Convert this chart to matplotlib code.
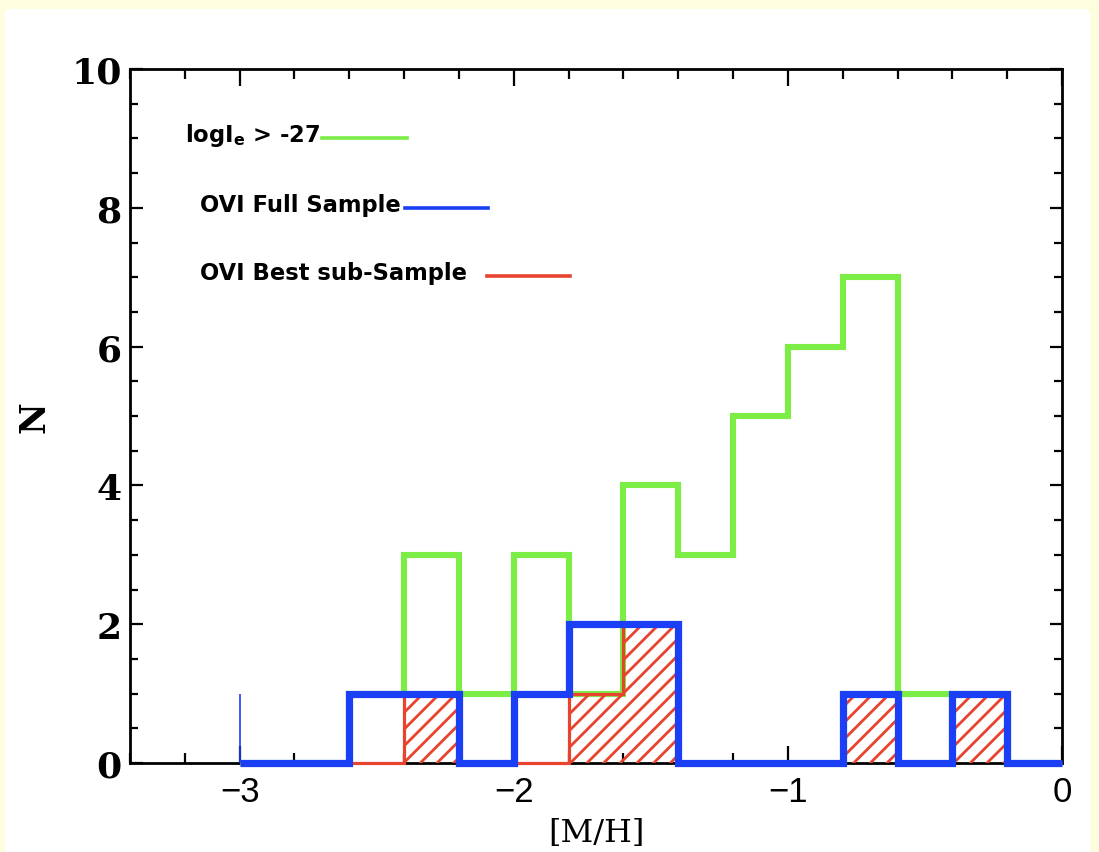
#!/usr/bin/env python3
"""Metallicity histograms: logI_e > -27 sample vs OVI full / best sub-sample."""
import matplotlib
matplotlib.use("Agg")
import matplotlib.pyplot as plt
from matplotlib.patches import FancyBboxPatch
from matplotlib.ticker import MultipleLocator
import numpy as np

# bin edges in [M/H], 0.2 dex wide
edges = np.round(np.arange(-3.0, 0.001, 0.2), 2)
# counts per bin, left to right
green_counts = [0, 0, 1, 3, 1, 3, 1, 4, 3, 5, 6, 7, 1, 1, 0]
blue_counts = [0, 0, 1, 1, 0, 1, 2, 2, 0, 0, 0, 1, 0, 1, 0]
red_counts = [0, 0, 0, 1, 0, 0, 1, 2, 0, 0, 0, 1, 0, 1, 0]
# stray thin blue tick drawn at the start of the full-sample histogram
blue_spike_x = -3.0
blue_spike_h = 1

labels = [r"$\mathbf{logI_e}$ > -27", "OVI Full Sample", "OVI Best sub-Sample"]

GREEN = "#7ced45"
BLUE = "#1a3ff5"
RED = "#e8432f"
BEIGE = "#fffde0"

plt.rcParams["hatch.linewidth"] = 2.0

fig = plt.figure(figsize=(10.99, 8.53), dpi=100, facecolor=BEIGE)
panel = FancyBboxPatch((5 / 1099, -0.05), 1085 / 1099, 1.05 - 10 / 853,
                       boxstyle="round,pad=0,rounding_size=0.006",
                       transform=fig.transFigure, facecolor="white",
                       edgecolor="none", zorder=-5)
fig.patches.append(panel)

ax = fig.add_axes([130 / 1099, 1 - 764 / 853, 932 / 1099, 694 / 853])
ax.set_facecolor("none")

# green histogram (drawn first, underneath)
ax.stairs(green_counts, edges, color=GREEN, linewidth=4.4, baseline=None,
          zorder=3, clip_on=False)
# red hatched fill + outline
ax.stairs(red_counts, edges, fill=True, facecolor="none", edgecolor=RED,
          hatch="//", linewidth=0, zorder=4, clip_on=False)
ax.stairs(red_counts, edges, color=RED, linewidth=2.3, baseline=None,
          zorder=4.5, clip_on=False)
# blue full sample on top
ax.stairs(blue_counts, edges, color=BLUE, linewidth=5.2, baseline=None,
          zorder=5, clip_on=False)
ax.vlines(blue_spike_x, 0, blue_spike_h, color=BLUE, linewidth=1.2, zorder=5)

ax.set_xlim(-3.4, 0)
ax.set_ylim(0, 10)

ax.xaxis.set_major_locator(MultipleLocator(1))
ax.xaxis.set_minor_locator(MultipleLocator(0.2))
ax.yaxis.set_major_locator(MultipleLocator(2))
ax.yaxis.set_minor_locator(MultipleLocator(0.5))
ax.tick_params(which="both", direction="in", top=True, right=True, width=1.6,
               color="black")
ax.tick_params(axis="x", which="major", length=12, pad=9)
ax.tick_params(axis="x", which="minor", length=7)
ax.tick_params(axis="y", which="major", length=9, pad=6)
ax.tick_params(axis="y", which="minor", length=6)
for sp in ax.spines.values():
    sp.set_linewidth(2.0)

ax.set_xticks([-3, -2, -1, 0])
ax.set_xticklabels(["\u22123", "\u22122", "\u22121", "0"],
                   family="Liberation Sans", fontsize=25)
ax.set_yticks([0, 2, 4, 6, 8, 10])
ax.set_yticklabels(["0", "2", "4", "6", "8", "10"], family="DejaVu Serif",
                   fontweight="bold", fontsize=26)

ax.set_xlabel("[M/H]", family="DejaVu Serif", fontsize=23, labelpad=6)
ax.set_ylabel("N", family="DejaVu Serif", fontweight="bold", fontsize=25,
              labelpad=14)

# hand-drawn style key: label text followed by a short coloured line
key_text_x = [0.059, 0.075, 0.075]
key_y = [0.905, 0.805, 0.707]
key_line = [(0.206, 0.297), (0.295, 0.384), (0.383, 0.472)]
key_line_y = [0.9006, 0.800, 0.7017]
for lab, tx, ty, (x0, x1), ly, col in zip(labels, key_text_x, key_y, key_line,
                                          key_line_y, [GREEN, BLUE, RED]):
    ax.text(tx, ty, lab, transform=ax.transAxes, fontsize=16.3,
            fontweight="bold", family="DejaVu Sans", va="center", ha="left")
    ax.plot([x0, x1], [ly, ly], transform=ax.transAxes, color=col,
            linewidth=2.6)

fig.savefig("out.png", dpi=100, facecolor=fig.get_facecolor())
